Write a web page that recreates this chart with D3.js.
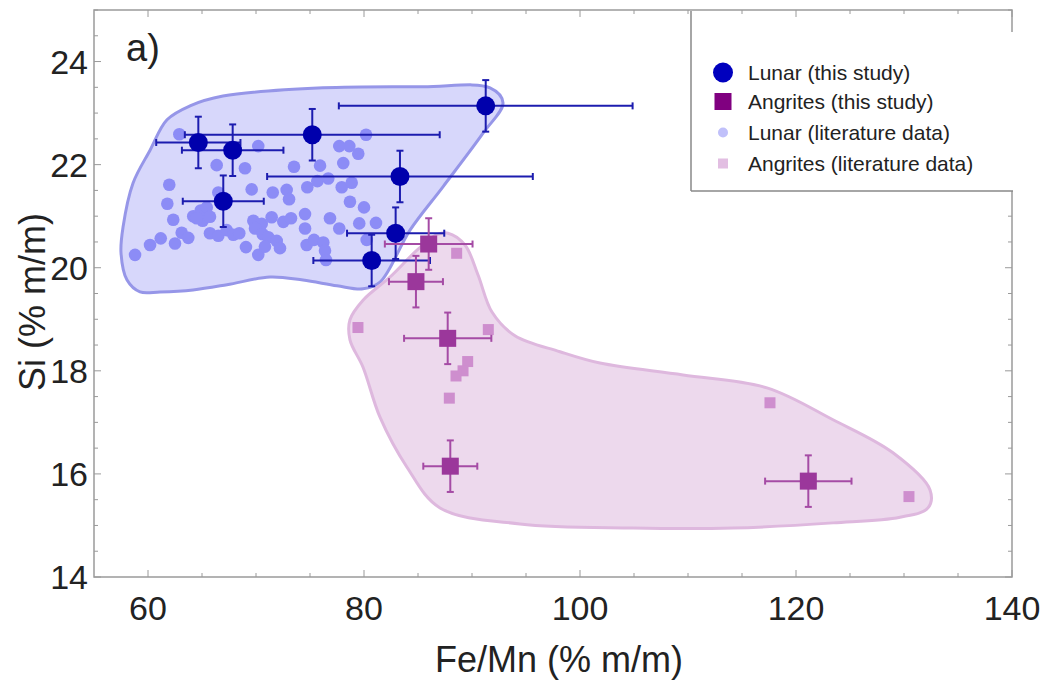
<!DOCTYPE html>
<html>
<head>
<meta charset="utf-8">
<script src="https://cdn.jsdelivr.net/npm/d3@7"></script>
<style>
  html, body { margin: 0; padding: 0; background: #fff; }
  svg { display: block; font-family: "Liberation Sans", Arial, sans-serif; }
</style>
</head>
<body>
<svg id="chart" width="1046" height="691"></svg>
<script>
// ---- Lunar samples (this study): Fe/Mn, Si and 1-sigma uncertainties ----
const lunarStudyFeMn    = [64.66, 67.84, 75.21, 91.27, 83.33, 66.97, 82.93, 80.71];
const lunarStudySi      = [22.43, 22.28, 22.58, 23.14, 21.77, 21.29, 20.67, 20.14];
const lunarStudyFeMnErr = [3.9, 4.7, 11.8, 13.6, 12.3, 3.75, 4.5, 5.4];
const lunarStudySiErr   = [0.5, 0.5, 0.5, 0.5, 0.5, 0.5, 0.5, 0.5];

// ---- Angrite samples (this study) ----
const angriteStudyFeMn    = [85.99, 84.81, 87.75, 87.99, 121.14];
const angriteStudySi      = [20.46, 19.73, 18.63, 16.15, 15.86];
const angriteStudyFeMnErr = [4.06, 2.5, 4.04, 2.5, 4.0];
const angriteStudySiErr   = [0.5, 0.5, 0.5, 0.5, 0.5];

// ---- Lunar literature data ----
const lunarLitFeMn = [62.90, 80.19, 70.21, 77.71, 78.64, 79.47, 66.36, 68.98, 73.52, 75.93,
  78.08, 61.97, 69.60, 71.55, 72.84, 73.06, 74.75, 75.68, 76.69, 77.94,
  78.86, 61.79, 78.70, 80.00, 62.34, 64.19, 64.88, 65.44, 65.06, 65.74,
  74.54, 76.85, 79.56, 81.11, 69.75, 70.53, 71.45, 72.53, 73.24, 74.54,
  77.71, 60.19, 61.18, 58.80, 62.50, 63.12, 63.73, 65.74, 66.51, 67.29,
  67.90, 68.45, 69.91, 70.62, 71.14, 80.25, 69.07, 70.21, 70.83, 71.92,
  72.22, 74.69, 75.37, 76.23, 76.39, 76.48, 64.51, 66.51];
const lunarLitSi = [22.59, 22.58, 22.36, 22.36, 22.36, 22.21, 21.99, 21.93, 21.96, 21.98,
  22.03, 21.61, 21.52, 21.46, 21.51, 21.33, 21.56, 21.68, 21.73, 21.56,
  21.65, 21.24, 21.28, 21.17, 20.93, 21.00, 21.11, 21.17, 20.91, 20.99,
  21.04, 20.96, 20.86, 20.87, 20.91, 20.85, 20.98, 20.89, 20.96, 20.76,
  20.76, 20.44, 20.57, 20.25, 20.47, 20.68, 20.58, 20.67, 20.62, 20.73,
  20.64, 20.67, 20.76, 20.65, 20.59, 20.54, 20.40, 20.25, 20.41, 20.52,
  20.38, 20.44, 20.54, 20.49, 20.33, 20.15, 20.96, 21.46];

// ---- Angrite literature data ----
const angriteLitFeMn = [88.58, 79.44, 91.51, 89.60, 89.17, 88.52, 87.90, 117.59, 130.46];
const angriteLitSi   = [20.28, 18.84, 18.80, 18.18, 18.00, 17.90, 17.47, 17.38, 15.56];

// ---- Compositional fields (outline vertices) ----
const lunarFieldFeMn = [63.89, 66.94, 76.20, 85.46, 91.67, 92.87, 91.02, 87.31, 84.26, 81.48,
  79.91, 77.50, 74.35, 71.30, 67.31, 64.17, 61.11, 59.26, 58.06, 57.50, 57.69, 58.61, 60.19, 61.76];
const lunarFieldSi = [23.14, 23.33, 23.49, 23.51, 23.49, 23.20, 22.61, 21.57, 20.73, 19.72,
  19.59, 19.65, 19.76, 19.82, 19.67, 19.57, 19.53, 19.53, 19.76, 20.29, 20.79, 21.64, 22.28, 22.87];
const angriteFieldFeMn = [86.76, 87.78, 89.35, 90.56, 91.85, 93.98, 98.15, 101.85, 109.54, 117.31,
  123.43, 128.98, 132.41, 132.22, 129.63, 123.43, 114.17, 104.91, 94.44, 87.04,
  83.98, 81.48, 79.91, 78.70, 78.70, 79.91, 82.41, 84.91];
const angriteFieldSi = [20.64, 20.67, 20.44, 19.86, 19.14, 18.68, 18.37, 18.15, 17.92, 17.67,
  17.05, 16.41, 15.69, 15.34, 15.16, 15.05, 14.95, 14.95, 15.03, 15.34,
  16.13, 17.10, 18.07, 18.60, 18.99, 19.37, 19.82, 20.34];

// ---- Axes ----
const xTicks = [60, 80, 100, 120, 140];
const yTicks = [14, 16, 18, 20, 22, 24];
const xTitle = "Fe/Mn (% m/m)";
const yTitle = "Si (% m/m)";
const panelLabel = "a)";
const legendLabels = ["Lunar (this study)", "Angrites (this study)", "Lunar (literature data)", "Angrites (literature data)"];

const svg = d3.select("#chart");
const plot = { left: 94, right: 1012, top: 10, bottom: 577 };

const x = d3.scaleLinear().domain([55, 140]).range([plot.left, plot.right]);
const y = d3.scaleLinear().domain([14, 25]).range([plot.bottom, plot.top]);

const zip = (a, b) => a.map((v, i) => [v, b[i]]);

// Fields
const field = d3.line().x(d => x(d[0])).y(d => y(d[1])).curve(d3.curveCatmullRomClosed.alpha(0.5));
svg.append("path").datum(zip(lunarFieldFeMn, lunarFieldSi))
  .attr("d", field).attr("fill", "rgba(102,102,238,0.26)")
  .attr("stroke", "rgb(150,150,232)").attr("stroke-width", 3);
svg.append("path").datum(zip(angriteFieldFeMn, angriteFieldSi))
  .attr("d", field).attr("fill", "rgba(185,110,185,0.26)")
  .attr("stroke", "rgb(222,184,222)").attr("stroke-width", 3);

// Literature points
svg.append("g").selectAll("circle").data(zip(lunarLitFeMn, lunarLitSi)).join("circle")
  .attr("cx", d => x(d[0])).attr("cy", d => y(d[1])).attr("r", 6.3)
  .attr("fill", "rgb(140,140,246)");
const litSq = 11;
svg.append("g").selectAll("rect").data(zip(angriteLitFeMn, angriteLitSi)).join("rect")
  .attr("x", d => x(d[0]) - litSq / 2).attr("y", d => y(d[1]) - litSq / 2)
  .attr("width", litSq).attr("height", litSq)
  .attr("fill", "rgb(206,142,206)");

// Error bars
function errorBars(g, xs, ys, xe, ye, color) {
  const cap = 3.5;
  xs.forEach((v, i) => {
    const cx = x(v), cy = y(ys[i]);
    const x0 = x(v - xe[i]), x1 = x(v + xe[i]);
    const y0 = y(ys[i] - ye[i]), y1 = y(ys[i] + ye[i]);
    const segs = [
      [x0, cy, x1, cy], [x0, cy - cap, x0, cy + cap], [x1, cy - cap, x1, cy + cap],
      [cx, y0, cx, y1], [cx - cap, y0, cx + cap, y0], [cx - cap, y1, cx + cap, y1]
    ];
    g.selectAll(null).data(segs).join("line")
      .attr("x1", s => s[0]).attr("y1", s => s[1]).attr("x2", s => s[2]).attr("y2", s => s[3])
      .attr("stroke", color).attr("stroke-width", 2);
  });
}

const gLunar = svg.append("g");
errorBars(gLunar, lunarStudyFeMn, lunarStudySi, lunarStudyFeMnErr, lunarStudySiErr, "rgb(28,28,175)");
const gAng = svg.append("g");
errorBars(gAng, angriteStudyFeMn, angriteStudySi, angriteStudyFeMnErr, angriteStudySiErr, "rgb(165,75,165)");

gLunar.selectAll("circle").data(zip(lunarStudyFeMn, lunarStudySi)).join("circle")
  .attr("cx", d => x(d[0])).attr("cy", d => y(d[1])).attr("r", 9.5)
  .attr("fill", "rgb(0,0,172)");
const stSq = 17;
gAng.selectAll("rect").data(zip(angriteStudyFeMn, angriteStudySi)).join("rect")
  .attr("x", d => x(d[0]) - stSq / 2).attr("y", d => y(d[1]) - stSq / 2)
  .attr("width", stSq).attr("height", stSq)
  .attr("fill", "rgb(155,55,155)");

// Frame with inward ticks
const frameColor = "#9a9a9a";
svg.append("rect").attr("x", plot.left).attr("y", plot.top)
  .attr("width", plot.right - plot.left).attr("height", plot.bottom - plot.top)
  .attr("fill", "none").attr("stroke", frameColor).attr("stroke-width", 1.5);

const xMinor = d3.range(60, 140.01, 5);
const yMinor = d3.range(14, 25.01, 0.5);
const tickG = svg.append("g").attr("stroke", frameColor).attr("stroke-width", 1);
xMinor.forEach(v => {
  const len = xTicks.includes(v) ? 7 : 4;
  tickG.append("line").attr("x1", x(v)).attr("x2", x(v)).attr("y1", plot.bottom).attr("y2", plot.bottom - len);
  tickG.append("line").attr("x1", x(v)).attr("x2", x(v)).attr("y1", plot.top).attr("y2", plot.top + len);
});
yMinor.forEach(v => {
  const len = yTicks.includes(v) ? 7 : 4;
  tickG.append("line").attr("y1", y(v)).attr("y2", y(v)).attr("x1", plot.left).attr("x2", plot.left + len);
  tickG.append("line").attr("y1", y(v)).attr("y2", y(v)).attr("x1", plot.right).attr("x2", plot.right - len);
});

// Tick labels
svg.append("g").selectAll("text").data(xTicks).join("text")
  .attr("x", d => x(d)).attr("y", 620).attr("text-anchor", "middle")
  .attr("font-size", 34).attr("fill", "#222").text(d => d);
svg.append("g").selectAll("text").data(yTicks).join("text")
  .attr("x", 88).attr("y", d => y(d)).attr("dy", "0.36em").attr("text-anchor", "end")
  .attr("font-size", 34).attr("fill", "#222").text(d => d);

// Axis titles
svg.append("text").attr("x", (plot.left + plot.right) / 2 + 6).attr("y", 672)
  .attr("text-anchor", "middle").attr("font-size", 36).attr("fill", "#222").text(xTitle);
svg.append("text").attr("transform", "translate(45,302) rotate(-90)")
  .attr("text-anchor", "middle").attr("font-size", 36).attr("fill", "#222").text(yTitle);

// Panel label
svg.append("text").attr("x", 126).attr("y", 61).attr("font-size", 38).attr("fill", "#222").text(panelLabel);

// Legend
const lg = svg.append("g");
lg.append("rect").attr("x", 691).attr("y", 32).attr("width", 326).attr("height", 159).attr("fill", "#fff");
lg.append("line").attr("x1", 691).attr("x2", 691).attr("y1", 11).attr("y2", 191).attr("stroke", "#888").attr("stroke-width", 1.5);
lg.append("line").attr("x1", 691).attr("x2", 1013).attr("y1", 191).attr("y2", 191).attr("stroke", "#888").attr("stroke-width", 1.5);
const rowsY = [72.5, 101.5, 132.5, 163.5];
const lx = 723;
lg.append("circle").attr("cx", lx).attr("cy", rowsY[0]).attr("r", 10).attr("fill", "rgb(0,0,190)");
lg.append("rect").attr("x", lx - 8.5).attr("y", rowsY[1] - 8.5).attr("width", 17).attr("height", 17).attr("fill", "rgb(128,0,128)");
lg.append("circle").attr("cx", lx).attr("cy", rowsY[2]).attr("r", 5).attr("fill", "rgb(192,192,250)");
lg.append("rect").attr("x", lx - 5).attr("y", rowsY[3] - 5).attr("width", 10).attr("height", 10).attr("fill", "rgb(226,190,226)");
lg.selectAll("text.lab").data(legendLabels).join("text").attr("class", "lab")
  .attr("x", 748).attr("y", (d, i) => rowsY[i]).attr("dy", "0.36em")
  .attr("font-size", 21).attr("fill", "#222").text(d => d);
</script>
</body>
</html>
